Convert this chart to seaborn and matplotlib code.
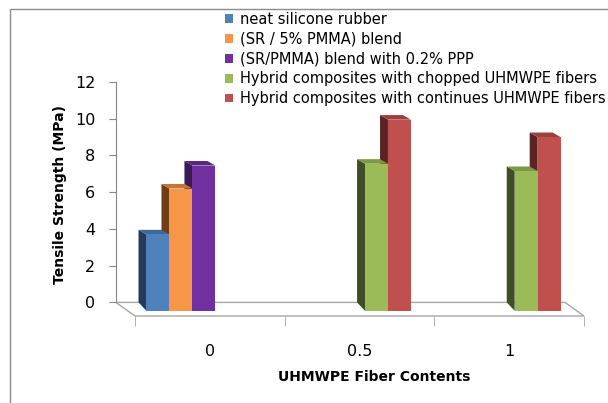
import numpy as np
import pandas as pd
import matplotlib
matplotlib.use("Agg")
import matplotlib.pyplot as plt
import seaborn as sns
from matplotlib.patches import Polygon, Rectangle

# fiber content categories and the five sample series
contents = ["0", "0.5", "1"]
series = [
    "neat silicone rubber",
    "(SR / 5% PMMA) blend",
    "(SR/PMMA) blend with 0.2% PPP",
    "Hybrid composites with chopped UHMWPE fibers",
    "Hybrid composites with continues UHMWPE fibers",
]
neat_sr = [3.95, np.nan, np.nan]
sr_pmma = [6.45, np.nan, np.nan]
sr_pmma_ppp = [7.7, np.nan, np.nan]
chopped = [np.nan, 7.8, 7.4]
continuous = [np.nan, 10.2, 9.25]

front_colors = ["#4F81BD", "#F79646", "#7030A0", "#9BBB59", "#C0504D"]
side_colors = ["#243B58", "#6E3F17", "#3A1A57", "#3F4F23", "#5A2424"]
top_colors = ["#3D6898", "#C77532", "#5A2682", "#7D9847", "#9C403E"]

rows = []
for name, vals in zip(series, [neat_sr, sr_pmma, sr_pmma_ppp, chopped, continuous]):
    for c, v in zip(contents, vals):
        if not np.isnan(v):
            rows.append({"content": c, "series": name, "strength": v})
df = pd.DataFrame(rows)

plt.rcParams["font.family"] = ["DejaVu Sans"]
fig = plt.figure(figsize=(6.08, 4.03), dpi=100)
ax = fig.add_axes([116 / 608, 1 - 316 / 403, 474 / 608, 234 / 403])

sns.barplot(data=df, x="content", y="strength", hue="series", order=contents,
            hue_order=series, palette=front_colors, width=0.767, gap=0,
            errorbar=None, saturation=1, linewidth=0, ax=ax)

# fake 3D depth: shift the front face, add side and top faces
back_dx, front_dx = -0.093, -0.04
top_dy, bot_dy = 0.25, 0.46
for i, cont in enumerate(ax.containers):
    for p in cont.patches:
        h = p.get_height()
        if not np.isfinite(h) or h == 0:
            continue
        x0, w = p.get_x(), p.get_width()
        xb, xf = x0 + back_dx, x0 + front_dx
        p.set_x(xf)
        p.set_y(-bot_dy)
        p.set_height(h - top_dy + bot_dy)
        p.set_zorder(10 - 2 * i + 0.5)
        side = Polygon([(xb, 0), (xb, h), (xf, h - top_dy), (xf, -bot_dy)],
                       closed=True, fc=side_colors[i], ec="none", zorder=10 - 2 * i)
        top = Polygon([(xb, h), (xb + w, h), (xf + w, h - top_dy), (xf, h - top_dy)],
                      closed=True, fc=top_colors[i], ec="none", zorder=10 - 2 * i)
        ax.add_patch(side)
        ax.add_patch(top)

# floor of the 3D box
floor = Polygon([(-0.627, 0), (2.373, 0), (2.5, -0.74), (-0.5, -0.74)], closed=True,
                fc="white", ec="#A6A6A6", lw=1, clip_on=False, zorder=1)
ax.add_patch(floor)

ax.set_xlim(-0.627, 2.54)
ax.set_ylim(-0.74, 12)
ax.set_yticks(range(0, 13, 2))
for s in ["top", "right", "bottom"]:
    ax.spines[s].set_visible(False)
ax.spines["left"].set_bounds(0, 12)
ax.spines["left"].set_color("#868686")
ax.tick_params(axis="y", length=5, color="#868686", pad=10, labelsize=11.5)
ax.set_xticks([-0.5, 0.5, 1.5, 2.5], minor=True)
ax.tick_params(axis="x", which="minor", length=7, color="#A6A6A6")
ax.tick_params(axis="x", which="major", length=0, pad=20, labelsize=11.5)
ax.set_xlabel("")
ax.set_ylabel("")

fig.text(374 / 608, 1 - 377 / 403, "UHMWPE Fiber Contents", ha="center", va="center",
         fontsize=10, fontweight="bold")
fig.text(60 / 608, 1 - 195 / 403, "Tensile Strength (MPa)", ha="center", va="center",
         rotation=90, fontsize=10, fontweight="bold")

sns.move_legend(ax, "upper left", bbox_to_anchor=(225 / 608, 1 - 12 / 403),
                bbox_transform=fig.transFigure, frameon=False, title=None,
                fontsize=10.5, handlelength=0.55, handleheight=0.55,
                handletextpad=0.5, labelspacing=0.33, borderpad=0, borderaxespad=0)

# chart area border
fig.add_artist(Rectangle((10 / 608, -0.1), 1.2, 1.1 - 9 / 403, transform=fig.transFigure,
                         fill=False, ec="#8C8C8C", lw=1))

fig.savefig("out.png", dpi=100)
